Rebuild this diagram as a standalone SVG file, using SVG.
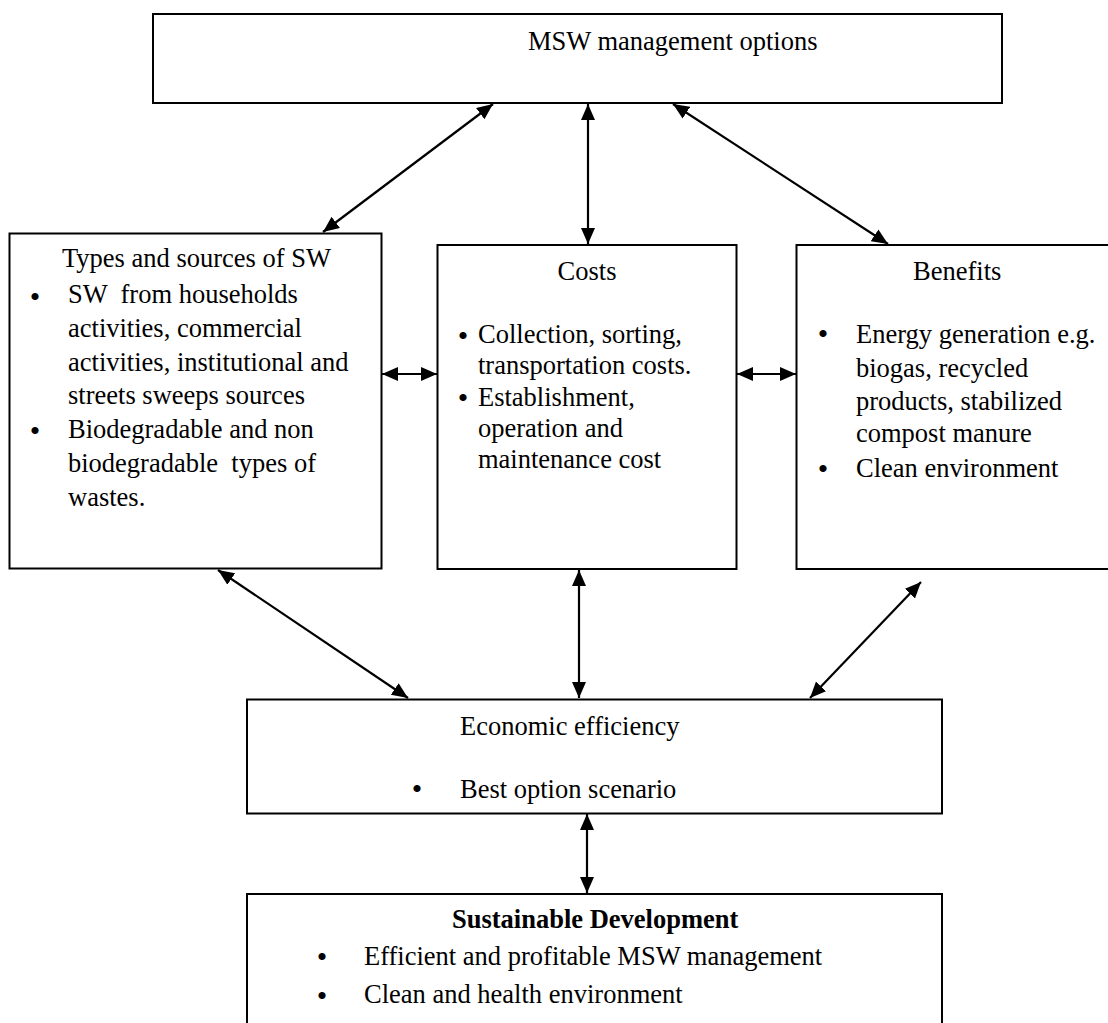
<svg xmlns="http://www.w3.org/2000/svg" width="1108" height="1023" viewBox="0 0 1108 1023">
<defs>
<marker id="ah" markerUnits="userSpaceOnUse" markerWidth="17" markerHeight="15" refX="16" refY="7" orient="auto-start-reverse">
<path d="M0,0 L16,7 L0,14 z" fill="#000"/>
</marker>
<style>
rect.box{fill:#fff;stroke:#000;stroke-width:2}
text{font-family:"Liberation Serif","Times New Roman",serif;font-size:26.5px;fill:#000}
text.b{font-weight:bold}
text.bl{font-size:30px}
line.c{stroke:#000;stroke-width:2.2;marker-start:url(#ah);marker-end:url(#ah)}
</style>
</defs>
<rect width="1108" height="1023" fill="#fff"/>
<g id="connectors">
<line class="c" x1="493" y1="104" x2="323" y2="232"/>
<line class="c" x1="588" y1="104" x2="588" y2="244"/>
<line class="c" x1="673" y1="104" x2="888" y2="244"/>
<line class="c" x1="382" y1="374" x2="437" y2="374"/>
<line class="c" x1="737" y1="374" x2="796" y2="374"/>
<line class="c" x1="218" y1="570" x2="408" y2="698"/>
<line class="c" x1="579" y1="570" x2="579" y2="698"/>
<line class="c" x1="921" y1="582" x2="810" y2="698"/>
<line class="c" x1="587" y1="814" x2="587" y2="893"/>
</g>
<g id="msw">
<rect class="box" x="153" y="14" width="849" height="89"/>
<text x="528" y="50">MSW management options</text>
</g>
<g id="types">
<rect class="box" x="9.5" y="233.5" width="372" height="335"/>
<text x="62" y="267">Types and sources of SW</text>
<text class="bl" x="35" y="307" text-anchor="middle">•</text>
<text x="68" y="303" xml:space="preserve">SW  from households</text>
<text x="68" y="337">activities, commercial</text>
<text x="68" y="371">activities, institutional and</text>
<text x="68" y="404">streets sweeps sources</text>
<text class="bl" x="35" y="441" text-anchor="middle">•</text>
<text x="68" y="438">Biodegradable and non</text>
<text x="68" y="472" xml:space="preserve">biodegradable  types of</text>
<text x="68" y="506">wastes.</text>
</g>
<g id="costs">
<rect class="box" x="437.5" y="245" width="299" height="324"/>
<text x="587" y="280" text-anchor="middle">Costs</text>
<text class="bl" x="463" y="346" text-anchor="middle">•</text>
<text x="478" y="343">Collection, sorting,</text>
<text x="478" y="374">transportation costs.</text>
<text class="bl" x="463" y="408" text-anchor="middle">•</text>
<text x="478" y="406">Establishment,</text>
<text x="478" y="437">operation and</text>
<text x="478" y="468">maintenance cost</text>
</g>
<g id="benefits">
<rect class="box" x="796.5" y="245" width="330" height="324"/>
<text x="913" y="280">Benefits</text>
<text class="bl" x="823" y="344" text-anchor="middle">•</text>
<text x="856" y="343">Energy generation e.g.</text>
<text x="856" y="377">biogas, recycled</text>
<text x="856" y="410">products, stabilized</text>
<text x="856" y="442">compost manure</text>
<text class="bl" x="823" y="479" text-anchor="middle">•</text>
<text x="856" y="477">Clean environment</text>
</g>
<g id="economic">
<rect class="box" x="247" y="699.5" width="695" height="114"/>
<text x="460" y="735">Economic efficiency</text>
<text class="bl" x="417" y="799" text-anchor="middle">•</text>
<text x="460" y="798">Best option scenario</text>
</g>
<g id="sustainable">
<rect class="box" x="247" y="894" width="695" height="140"/>
<text class="b" x="452" y="928">Sustainable Development</text>
<text class="bl" x="322" y="967" text-anchor="middle">•</text>
<text x="364" y="965">Efficient and profitable MSW management</text>
<text class="bl" x="322" y="1006" text-anchor="middle">•</text>
<text x="364" y="1003">Clean and health environment</text>
</g>
</svg>
